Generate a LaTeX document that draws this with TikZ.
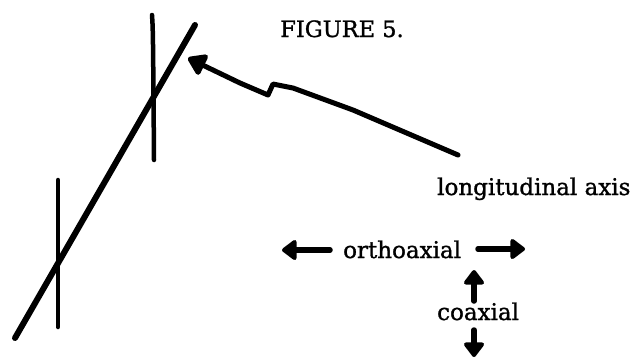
\documentclass[tikz,border=0pt]{standalone}
\usepackage{fontspec}
\setmainfont{DejaVu Serif}[FakeBold=1.2]
\usetikzlibrary{arrows.meta}
\begin{document}
\begin{tikzpicture}[x=1pt,y=-1pt,
  stroke/.style={line width=#1,line cap=round,line join=round},
  lbl/.style={inner sep=0pt,anchor=base west,font=\fontsize{23}{23}\selectfont},
  fat/.style={line width=5.5pt,line cap=round,line join=round,-{Triangle[length=16pt,width=23pt,round]}}]
\useasboundingbox (0,0) rectangle (635,360);
% axis lines
\coordinate (d1) at (15,338);
\coordinate (d2) at (195,25);
\draw[stroke=6pt] (d1) -- (d2);
\coordinate (v1) at (152,15);
\coordinate (v2) at (154,160);
\draw[stroke=4.5pt] (v1) .. controls (153,30) .. (v2);
\coordinate (w1) at (58,180);
\coordinate (w2) at (58,327);
\draw[stroke=4.5pt] (w1) -- (w2);
% labels
\node[lbl,anchor=base,font=\fontsize{22.5}{23}\selectfont] (fig) at (342,37) {FIGURE 5.};
\node[lbl] (lon) at (437,195) {longitudinal axis};
\node[lbl] (ortho) at (343,258) {orthoaxial};
\node[lbl] (co) at (437,320) {coaxial};
% long arrow
\coordinate (tail) at (458,155);
\coordinate (tip) at (188,58);
\draw[line width=5pt,line cap=round,line join=round,-{Triangle[length=20pt,width=25pt,round]}]
  (tail) -- (353,110) -- (293,88) -- (273,84) -- (268,95) -- (240,83) -- (tip);
% direction arrows
\coordinate (l1) at (330,250);
\coordinate (l2) at (282,250);
\draw[fat] (l1) -- (l2);
\coordinate (r1) at (478,249);
\coordinate (r2) at (525,249);
\draw[fat] (r1) -- (r2);
\coordinate (u1) at (474,301);
\coordinate (u2) at (474,270);
\draw[fat] (u1) -- (u2);
\coordinate (dn1) at (474,330);
\coordinate (dn2) at (474,357);
\draw[fat] (dn1) -- (dn2);
\end{tikzpicture}
\end{document}
